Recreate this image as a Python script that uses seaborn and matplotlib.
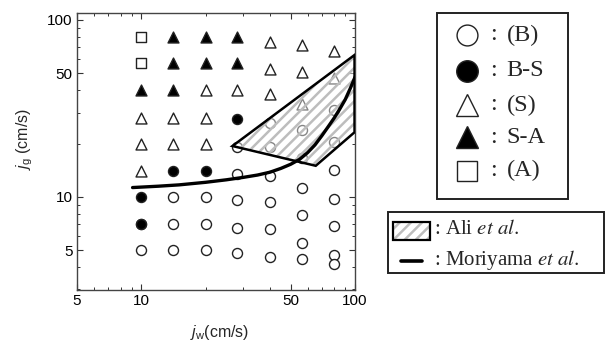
import numpy as np
import pandas as pd
import matplotlib
matplotlib.use("Agg")
import matplotlib.pyplot as plt
from matplotlib.patches import Polygon, Rectangle
from matplotlib.ticker import FixedLocator, NullFormatter, FixedFormatter
import seaborn as sns

# ---------------- data ----------------
# open circles: (B)
b_x = [10, 14, 20, 14, 20, 10, 14, 20, 28, 28, 28, 28, 28,
       40, 40, 40, 40, 40, 40,
       56.5, 56.5, 56.5, 56.5, 56.5, 56.5,
       80, 80, 80, 80, 80, 80, 80]
b_y = [5, 10, 10, 5, 5, 7, 7, 7, 19.2, 13.4, 9.6, 6.7, 4.8,
       26.3, 19.1, 13.2, 9.4, 6.6, 4.6,
       23.9, 16.5, 11.3, 7.9, 5.5, 4.47,
       30.8, 20.5, 14.2, 9.7, 6.85, 4.7, 4.17]
# filled circles: B-S
bs_x = [10, 10, 14, 20, 28]
bs_y = [10, 7, 14, 14, 27.5]
# open triangles: (S)
s_x = [10, 10, 10, 14, 14, 20, 20, 20, 28, 40, 40, 40, 56.5, 56.5, 56.5, 80, 80]
s_y = [28, 20, 14, 28, 20, 40, 28, 20, 40, 75, 53, 38, 72, 50.5, 33.5, 67, 47]
# filled triangles: S-A
sa_x = [10, 14, 14, 14, 20, 20, 28, 28]
sa_y = [40, 80, 57, 40, 80, 57, 80, 57]
# open squares: (A)
a_x = [10, 10]
a_y = [80, 57]

# Ali et al. region
ali_x = [26.7, 99.5, 99.5, 65.5]
ali_y = [19.4, 63.4, 23.2, 15.0]

# Moriyama et al. curve
mor_x = [9.1, 12, 15, 20, 25, 30, 35, 40, 45, 50, 55, 60, 65, 70, 75, 80, 85, 90, 95, 100]
mor_y = [11.3, 11.5, 11.7, 12.1, 12.5, 12.9, 13.3, 13.8, 14.5, 15.3, 16.3, 17.8, 19.7,
         22.2, 25.0, 28.0, 31.5, 35.5, 41.0, 47.5]

x_ticks = [5, 10, 50, 100]
y_ticks = [5, 10, 50, 100]

# ---------------- style ----------------
sns.set_style("ticks", {"xtick.direction": "in", "ytick.direction": "in"})
plt.rcParams["font.family"] = ["Liberation Sans", "DejaVu Sans"]
plt.rcParams["mathtext.fontset"] = "custom"
plt.rcParams["mathtext.rm"] = "Liberation Sans"
plt.rcParams["mathtext.it"] = "Liberation Sans:italic"
plt.rcParams["hatch.linewidth"] = 1.8

W, H = 607, 345
fig = plt.figure(figsize=(W / 100, H / 100), dpi=100)
ax = fig.add_axes([77 / W, 1 - 290 / H, (355 - 77) / W, (290 - 13) / H])
ax.set_xscale("log")
ax.set_yscale("log")
ax.set_xlim(5, 100)
ax.set_ylim(2.98, 109.5)

spec = [
    (b_x, b_y, "o", "white", 52),
    (bs_x, bs_y, "o", "black", 52),
    (s_x, s_y, "^", "white", 62),
    (sa_x, sa_y, "^", "black", 62),
    (a_x, a_y, "s", "white", 44),
]
for xs, ys, m, fc, s in spec:
    df = pd.DataFrame({"x": xs, "y": ys})
    sns.scatterplot(data=df, x="x", y="y", marker=m, s=s, facecolor=fc,
                    edgecolor="#222222", linewidth=1.0, ax=ax, zorder=3, legend=False)

# hatched region
ali_pts = np.column_stack([ali_x, ali_y])
ax.add_patch(Polygon(ali_pts, closed=True, facecolor=(1, 1, 1, 0.45),
                     edgecolor="#bdbdbd", hatch="///", linewidth=0, zorder=4))
ax.add_patch(Polygon(ali_pts, closed=True, fill=False, edgecolor="black",
                     linewidth=1.8, zorder=5))

# Moriyama curve
sns.lineplot(x=mor_x, y=mor_y, color="black", linewidth=2.4, ax=ax, zorder=6,
             sort=False, estimator=None)

# ticks
ax.xaxis.set_major_locator(FixedLocator(x_ticks))
ax.xaxis.set_major_formatter(FixedFormatter([str(t) for t in x_ticks]))
ax.xaxis.set_minor_locator(FixedLocator([6, 7, 8, 9, 20, 30, 40, 60, 70, 80, 90]))
ax.xaxis.set_minor_formatter(NullFormatter())
ax.yaxis.set_major_locator(FixedLocator(y_ticks))
ax.yaxis.set_major_formatter(FixedFormatter([str(t) for t in y_ticks]))
ax.yaxis.set_minor_locator(FixedLocator([3, 4, 6, 7, 8, 9, 20, 30, 40, 60, 70, 80, 90]))
ax.yaxis.set_minor_formatter(NullFormatter())
ax.tick_params(which="both", direction="in", top=True, right=True, colors="#333333",
               labelcolor="black", labelsize=11)
ax.tick_params(which="major", length=4, width=0.8, pad=3)
ax.tick_params(which="minor", length=2.5, width=0.7)
for sp in ax.spines.values():
    sp.set_color("#444444")
    sp.set_linewidth(1.0)
    sp.set_visible(True)
ax.set_xlabel("")
ax.set_ylabel("")

fig.text(220 / W, 1 - 333 / H, r"$j_\mathrm{w}$(cm/s)", ha="center", va="center", fontsize=11.5)
fig.text(25 / W, 1 - 139 / H, r"$j_\mathrm{g}$ (cm/s)", ha="center", va="center",
         rotation=90, fontsize=11.5)

# ---------------- legends (pixel-space overlay) ----------------
lax = fig.add_axes([0, 0, 1, 1], zorder=10)
lax.set_xlim(0, W)
lax.set_ylim(H, 0)
lax.axis("off")
serif = ["Liberation Serif", "DejaVu Serif"]

lax.add_patch(Rectangle((436.7, 12.7), 568.3 - 436.7, 199 - 12.7, fill=False,
                        edgecolor="#222222", linewidth=1.4))
leg_rows = [
    ("o", "white", 15, "(B)", 35),
    ("o", "black", 15.5, "B-S", 70.7),
    ("^", "white", 16, "(S)", 105),
    ("^", "black", 16, "S-A", 137.3),
    ("s", "white", 14, "(A)", 170.7),
]
for m, fc, ms, lab, yy in leg_rows:
    lax.plot([466.7], [yy], marker=m, markersize=ms, markerfacecolor=fc,
             markeredgecolor="#222222", markeredgewidth=1.0, linestyle="none")
    lax.text(493.3, yy, ":", ha="center", va="center", fontsize=17.5, family=serif)
    lax.text(506.7, yy, lab, ha="left", va="center", fontsize=17.5, family=serif)

lax.add_patch(Rectangle((388, 211.7), 604 - 388, 273.3 - 211.7, fill=False,
                        edgecolor="#222222", linewidth=1.4))
lax.add_patch(Rectangle((393.3, 222.3), 430 - 393.3, 240 - 222.3, facecolor="white",
                        edgecolor="#bdbdbd", hatch="///", linewidth=0))
lax.add_patch(Rectangle((393.3, 222.3), 430 - 393.3, 240 - 222.3, fill=False,
                        edgecolor="black", linewidth=1.6))
lax.plot([400.7, 422.3], [260.7, 260.7], color="black", linewidth=2.6)
lax.text(434.5, 230, ": Ali $\\it{et\\ al.}$", ha="left", va="center", fontsize=15,
         family=serif, math_fontfamily="stix")
lax.text(434.5, 260, ": Moriyama $\\it{et\\ al.}$", ha="left", va="center", fontsize=15,
         family=serif, math_fontfamily="stix")

fig.savefig("out.png", dpi=100)
